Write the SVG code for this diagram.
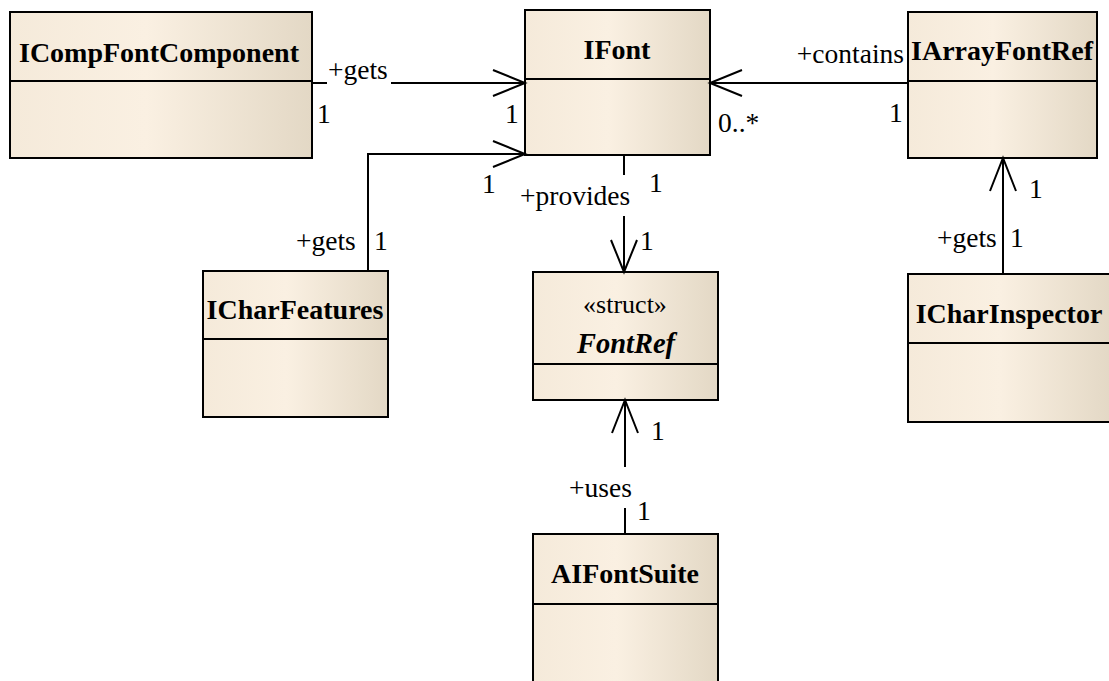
<svg xmlns="http://www.w3.org/2000/svg" width="1109" height="681" viewBox="0 0 1109 681">
<defs>
<linearGradient id="fill" x1="0" y1="0" x2="1" y2="0">
<stop offset="0" stop-color="#F5EADA"/>
<stop offset="0.45" stop-color="#FAF0E2"/>
<stop offset="1" stop-color="#E3D8C5"/>
</linearGradient>
<style>
text{font-family:'Liberation Serif','DejaVu Serif',serif;fill:#000}
.box{fill:url(#fill);stroke:#000;stroke-width:2}
.div{stroke:#000;stroke-width:2}
.title{font-size:28px;font-weight:bold;text-anchor:middle}
.stereo{font-size:26px;text-anchor:middle}
.ital{font-size:28.5px;font-weight:bold;font-style:italic;text-anchor:middle}
.lbl{font-size:27.5px}
.line{fill:none;stroke:#000;stroke-width:2}
</style>
</defs>
<rect width="1109" height="681" fill="#fff"/>

<g id="ICompFontComponent">
<rect class="box" x="10" y="12" width="302" height="146"/>
<line class="div" x1="10" y1="81" x2="312" y2="81"/>
<text class="title" x="159" y="62">ICompFontComponent</text>
</g>

<g id="IFont">
<rect class="box" x="525" y="10" width="185" height="145"/>
<line class="div" x1="525" y1="79" x2="710" y2="79"/>
<text class="title" x="617" y="59">IFont</text>
</g>

<g id="IArrayFontRef">
<rect class="box" x="908" y="12" width="189" height="146"/>
<line class="div" x1="908" y1="81" x2="1097" y2="81"/>
<text class="title" x="1002" y="60">IArrayFontRef</text>
</g>

<g id="ICharFeatures">
<rect class="box" x="203" y="271" width="185" height="146"/>
<line class="div" x1="203" y1="339" x2="388" y2="339"/>
<text class="title" x="295" y="319">ICharFeatures</text>
</g>

<g id="FontRef">
<rect class="box" x="533" y="272" width="185" height="128"/>
<line class="div" x1="533" y1="364" x2="718" y2="364"/>
<text class="stereo" x="625" y="313">«struct»</text>
<text class="ital" x="626" y="353">FontRef</text>
</g>

<g id="ICharInspector">
<rect class="box" x="908" y="274" width="204" height="148"/>
<line class="div" x1="908" y1="343" x2="1112" y2="343"/>
<text class="title" x="1009" y="323">ICharInspector</text>
</g>

<g id="AIFontSuite">
<rect class="box" x="533" y="534" width="185" height="160"/>
<line class="div" x1="533" y1="604" x2="718" y2="604"/>
<text class="title" x="625" y="583">AIFontSuite</text>
</g>

<g id="connectors">
<path class="line" d="M312 83 H327 M391 83 H525"/>
<path class="line" d="M493 70 L525 83 L493 96"/>
<text class="lbl" x="328" y="79">+gets</text>
<text class="lbl" x="317" y="123">1</text>
<text class="lbl" x="505" y="123">1</text>

<path class="line" d="M368 271 V154 H525"/>
<path class="line" d="M493 141 L525 154 L493 167"/>
<text class="lbl" x="296" y="250">+gets</text>
<text class="lbl" x="374" y="250">1</text>
<text class="lbl" x="482" y="193">1</text>

<path class="line" d="M624 155 V175 M624 216 V272"/>
<path class="line" d="M611 240 L624 272 L637 240"/>
<text class="lbl" x="520" y="205">+provides</text>
<text class="lbl" x="649" y="192">1</text>
<text class="lbl" x="640" y="250">1</text>

<path class="line" d="M908 83 H710"/>
<path class="line" d="M742 70 L710 83 L742 96"/>
<text class="lbl" x="904" y="63" text-anchor="end">+contains</text>
<text class="lbl" x="718" y="132">0..*</text>
<text class="lbl" x="889" y="122">1</text>

<path class="line" d="M1003 274 V158"/>
<path class="line" d="M990 191 L1003 158 L1016 191"/>
<text class="lbl" x="937" y="247">+gets</text>
<text class="lbl" x="1010" y="247">1</text>
<text class="lbl" x="1029" y="198">1</text>

<path class="line" d="M625 534 V508 M625 467 V400"/>
<path class="line" d="M612 433 L625 400 L638 433"/>
<text class="lbl" x="569" y="497">+uses</text>
<text class="lbl" x="637" y="520">1</text>
<text class="lbl" x="651" y="440">1</text>
</g>
</svg>
